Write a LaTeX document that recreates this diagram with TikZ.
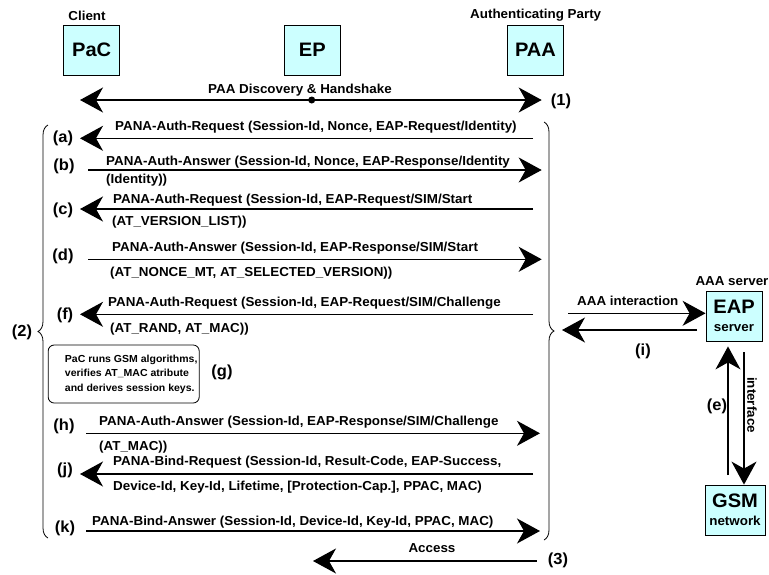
\documentclass[tikz,border=0pt]{standalone}
\usepackage{fontspec}
\setmainfont{Liberation Sans}[FakeStretch=1.03]
\usetikzlibrary{arrows.meta,decorations.pathreplacing}
\definecolor{boxfill}{RGB}{204,255,255}
\begin{document}
\begin{tikzpicture}[x=1pt,y=-1pt,
  msg/.style={line width=1.3pt, -{Stealth[length=23pt,width=25pt,inset=7pt]}},
  msgboth/.style={line width=1.3pt, {Stealth[length=23pt,width=25pt,inset=7pt]}-{Stealth[length=23pt,width=25pt,inset=7pt]}},
  txt/.style={font=\fontsize{13}{14}\bfseries\selectfont, inner sep=0pt, anchor=base west},
  ctxt/.style={font=\fontsize{13}{14}\bfseries\selectfont, inner sep=0pt, anchor=base},
  lbl/.style={font=\fontsize{16}{18}\bfseries\selectfont, inner sep=0pt},
  ent/.style={draw, line width=0.8pt, fill=boxfill, font=\fontsize{19.5}{18.3}\bfseries\selectfont, minimum width=56pt, minimum height=50pt, inner sep=0pt, align=center},
  bracestyle/.style={line width=0.8pt, decorate, decoration={brace, amplitude=10pt}},
  gboxstyle/.style={draw, line width=0.8pt, rounded corners=6pt, inner sep=0pt, minimum width=151pt, minimum height=58pt, font=\fontsize{10.2}{14.5}\bfseries\selectfont}
]
\useasboundingbox (0,0) rectangle (769,574);

% entities
\node[ent] (pac) at (91.7,50) {PaC};
\node[ent] (ep) at (312.3,50) {EP};
\node[ent] (paa) at (535.5,50) {PAA};
\node[ctxt] (client) at (87,20) {Client};
\node[ctxt] (authp) at (535.7,18.5) {Authenticating Party};

% (1)
\node[circle, fill, inner sep=0pt, minimum size=7pt] (dot) at (311.7,100) {};
\coordinate (oneL) at (80,100);
\coordinate (oneR) at (541.7,100);
\draw[msgboth] (oneL) -- (oneR);
\node[ctxt] (disc) at (300,93) {PAA Discovery \& Handshake};
\node[lbl] (l1) at (561,101) {(1)};

% braces
\coordinate (lbB) at (48,538);
\coordinate (lbT) at (48,125);
\draw[bracestyle] (lbB) -- (lbT);
\coordinate (rbT) at (544,122);
\coordinate (rbB) at (544,540);
\draw[bracestyle] (rbT) -- (rbB);
\node[lbl] (l2) at (22,332) {(2)};

% (a)
\coordinate (aR) at (533,138.3); \coordinate (aL) at (80,138.3);
\draw[msg] (aR) -- (aL);
\node[txt] (ta) at (115,130) {PANA-Auth-Request (Session-Id, Nonce, EAP-Request/Identity)};
\node[lbl] (la) at (63,138) {(a)};

% (b)
\coordinate (bL) at (88,170); \coordinate (bR) at (541.7,170);
\draw[msg] (bL) -- (bR);
\node[txt] (tb1) at (106,165) {PANA-Auth-Answer (Session-Id, Nonce, EAP-Response/Identity};
\node[txt] (tb2) at (106,183) {(Identity))};
\node[lbl] (lb) at (64,166) {(b)};

% (c)
\coordinate (cR) at (533,209); \coordinate (cL) at (80,209);
\draw[msg] (cR) -- (cL);
\node[txt] (tc1) at (113,203) {PANA-Auth-Request (Session-Id, EAP-Request/SIM/Start};
\node[txt] (tc2) at (112,225) {(AT\_VERSION\_LIST))};
\node[lbl] (lc) at (63,210) {(c)};

% (d)
\coordinate (dL) at (88,259.3); \coordinate (dR) at (541.7,259.3);
\draw[msg] (dL) -- (dR);
\node[txt] (td1) at (112,251.7) {PANA-Auth-Answer (Session-Id, EAP-Response/SIM/Start};
\node[txt] (td2) at (110,276) {(AT\_NONCE\_MT, AT\_SELECTED\_VERSION))};
\node[lbl] (ld) at (63,256) {(d)};

% (f)
\coordinate (fR) at (533,314.3); \coordinate (fL) at (80,314.3);
\draw[msg] (fR) -- (fL);
\node[txt] (tf1) at (108,306.7) {PANA-Auth-Request (Session-Id, EAP-Request/SIM/Challenge};
\node[txt] (tf2) at (110,332) {(AT\_RAND, AT\_MAC))};
\node[lbl] (lf) at (65,315) {(f)};

% (g)
\node[gboxstyle] (gbox) at (123.7,374) {\hspace*{15pt}\begin{tabular}{@{}l@{}}PaC runs GSM algorithms,\\verifies AT\_MAC atribute\\and derives session keys.\end{tabular}};
\node[lbl] (lg) at (222,372) {(g)};

% (h)
\coordinate (hL) at (86,433.3); \coordinate (hR) at (540,433.3);
\draw[msg] (hL) -- (hR);
\node[txt] (th1) at (99,425.7) {PANA-Auth-Answer (Session-Id, EAP-Response/SIM/Challenge};
\node[txt] (th2) at (99,450) {(AT\_MAC))};
\node[lbl] (lh) at (64,426) {(h)};

% (j)
\coordinate (jR) at (533,474); \coordinate (jL) at (80,474);
\draw[msg] (jR) -- (jL);
\node[txt] (tj1) at (113,465) {PANA-Bind-Request (Session-Id, Result-Code, EAP-Success,};
\node[txt] (tj2) at (113,490) {Device-Id, Key-Id, Lifetime, [Protection-Cap.], PPAC, MAC)};
\node[lbl] (lj) at (65,470) {(j)};

% (k)
\coordinate (kL) at (86,531); \coordinate (kR) at (540,531);
\draw[msg] (kL) -- (kR);
\node[txt] (tk) at (92,525) {PANA-Bind-Answer (Session-Id, Device-Id, Key-Id, PPAC, MAC)};
\node[lbl] (lk) at (65,528) {(k)};

% (3) Access
\coordinate (accR) at (536.7,561); \coordinate (accL) at (313,561);
\draw[msg] (accR) -- (accL);
\node[ctxt] (acc) at (432,552) {Access};
\node[lbl] (l3) at (558,560) {(3)};

% AAA server side
\node[ent] (eap) at (734,316) [minimum width=56pt] {EAP\\{\fontsize{13}{18.3}\selectfont server}};
\node[ent] (gsm) at (735,510) [minimum width=60pt] {GSM\\{\fontsize{13}{18.3}\selectfont network}};
\node[ctxt] (aaas) at (732,285) {AAA server};

\coordinate (aaaS) at (568,313.3);
\draw[msg] (aaaS) -- (aaaS -| eap.west);
\node[txt] (aaat) at (577,305) {AAA interaction};
\coordinate (iS) at (697,330); \coordinate (iE) at (562,330);
\draw[msg] (iS) -- (iE);
\node[lbl] (li) at (643,351) {(i)};

\coordinate (upS) at (728,475);
\draw[msg, shorten >=5pt] (upS) -- (upS |- eap.south);
\coordinate (dnS) at (744,352);
\draw[msg] (dnS) -- (dnS |- gsm.north);
\node[lbl] (le) at (717,406) {(e)};
\node[ctxt, anchor=center, rotate=-90] (intf) at (752,405) {interface};
\end{tikzpicture}
\end{document}
